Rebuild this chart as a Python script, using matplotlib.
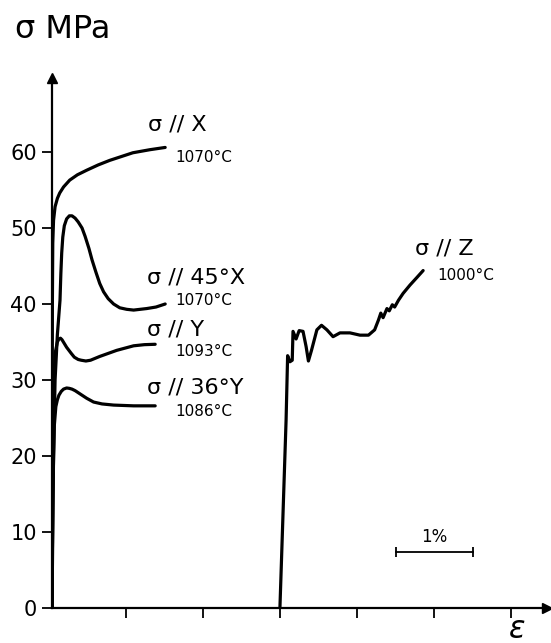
import matplotlib
matplotlib.use("Agg")
import matplotlib.pyplot as plt

# stress-strain curves, strain in % from the sigma axis, stress in MPa
eps_x = [0, 0.005, 0.01, 0.02, 0.04, 0.07, 0.10, 0.15, 0.23, 0.33, 0.45, 0.60,
         0.75, 0.90, 1.05, 1.27, 1.47]
sig_x = [0, 40, 48, 51, 52.8, 53.9, 54.6, 55.4, 56.3, 57.0, 57.6, 58.3,
         58.9, 59.4, 59.9, 60.3, 60.6]

eps_45x = [0, 0.01, 0.02, 0.04, 0.07, 0.104, 0.115, 0.126, 0.14, 0.16, 0.19, 0.225,
           0.26, 0.30, 0.34, 0.39, 0.43, 0.48, 0.52, 0.57, 0.62, 0.67, 0.73, 0.80,
           0.88, 0.97, 1.06, 1.23, 1.35, 1.47]
sig_45x = [0, 10, 20, 30, 36, 40.5, 44, 46.7, 48.8, 50.3, 51.2, 51.6,
           51.6, 51.3, 50.8, 50.0, 48.9, 47.3, 45.8, 44.2, 42.7, 41.6, 40.7, 40.0,
           39.5, 39.3, 39.2, 39.4, 39.6, 40.0]

eps_y = [0, 0.01, 0.02, 0.04, 0.07, 0.09, 0.11, 0.13, 0.16, 0.19, 0.25, 0.29, 0.34,
         0.38, 0.44, 0.50, 0.62, 0.73, 0.84, 0.95, 1.06, 1.20, 1.34]
sig_y = [0, 15, 28, 33.5, 35, 35.4, 35.5, 35.3, 34.8, 34.3, 33.5, 33.0, 32.7,
         32.6, 32.5, 32.6, 33.1, 33.5, 33.9, 34.2, 34.5, 34.65, 34.7]

eps_36y = [0, 0.01, 0.03, 0.05, 0.07, 0.09, 0.12, 0.15, 0.19, 0.225, 0.26, 0.30,
           0.36, 0.45, 0.54, 0.65, 0.80, 1.06, 1.34]
sig_36y = [0, 15, 24, 26.5, 27.4, 28.0, 28.5, 28.8, 28.95, 28.9, 28.8, 28.6,
           28.2, 27.6, 27.1, 26.85, 26.7, 26.6, 26.6]

eps_z = [2.96, 3.04, 3.06, 3.09, 3.12, 3.13, 3.17, 3.21, 3.26, 3.30, 3.33, 3.37, 3.44,
         3.50, 3.57, 3.65, 3.74, 3.87, 4.00, 4.11, 4.19, 4.24, 4.27, 4.30, 4.35,
         4.38, 4.42, 4.45, 4.50, 4.56, 4.65, 4.74, 4.82]
sig_z = [0, 24.7, 33.2, 32.4, 32.6, 36.4, 35.4, 36.5, 36.4, 34.4, 32.5, 33.9, 36.6,
         37.2, 36.6, 35.7, 36.2, 36.2, 35.9, 35.9, 36.6, 37.9, 38.8, 38.2, 39.4,
         39.1, 39.9, 39.6, 40.5, 41.4, 42.5, 43.5, 44.4]

y_ticks = [0, 10, 20, 30, 40, 50, 60]
x_ticks = [0.96, 1.96, 2.96, 3.96, 4.96, 5.96]
scale_start = 4.47
scale_len = 1.0  # 1 %

labels = [
    ("σ // X", 1.25, 63.6, 16),
    ("1070°C", 1.60, 59.3, 11),
    ("σ // 45°X", 1.23, 43.5, 16),
    ("1070°C", 1.60, 40.5, 11),
    ("σ // Y", 1.23, 36.6, 16),
    ("1093°C", 1.60, 33.8, 11),
    ("σ // 36°Y", 1.23, 29.0, 16),
    ("1086°C", 1.60, 25.9, 11),
    ("σ // Z", 4.71, 47.3, 16),
    ("1000°C", 5.01, 43.8, 11),
]

fig = plt.figure(figsize=(5.51, 6.43), dpi=100)
ax = fig.add_axes([52/551, 35/643, 495/551, 530/643])

lw = 2.3
for xs, ys in [(eps_x, sig_x), (eps_45x, sig_45x), (eps_y, sig_y),
               (eps_36y, sig_36y), (eps_z, sig_z)]:
    ax.plot(xs, ys, color="black", lw=lw, solid_joinstyle="round", solid_capstyle="round")

for txt, x, y, fs in labels:
    ax.text(x, y, txt, ha="left", va="center", fontsize=fs, color="black")

# 1% scale bar
ax.plot([scale_start, scale_start + scale_len], [7.4, 7.4], color="black", lw=1.3,
        marker="|", markersize=7, markeredgewidth=1.3)
ax.text(scale_start + scale_len / 2, 9.4, "1%", ha="center", va="center", fontsize=12)

ax.set_xlim(0, 495/77)
ax.set_ylim(0, 530/7.6)
ax.set_xticks(x_ticks)
ax.set_xticklabels([])
ax.set_yticks(y_ticks)
ax.set_yticklabels([str(v) for v in y_ticks], fontsize=15)
ax.tick_params(direction="out", length=7, width=1.3, pad=4)
ax.spines["top"].set_visible(False)
ax.spines["right"].set_visible(False)
ax.spines["left"].set_linewidth(1.6)
ax.spines["bottom"].set_linewidth(1.6)

# axis arrows
ax.plot(1, 0, ">k", transform=ax.transAxes, clip_on=False, markersize=7)
ax.plot(0, 1, "^k", transform=ax.transAxes, clip_on=False, markersize=7)

fig.text(15/551, 1 - 29/643, "σ MPa", fontsize=23, va="center", ha="left")
fig.text(517/551, 1 - 630/643, "ε", fontsize=22, va="center", ha="center", style="italic")

fig.savefig("out.png", dpi=100)
plt.close(fig)
